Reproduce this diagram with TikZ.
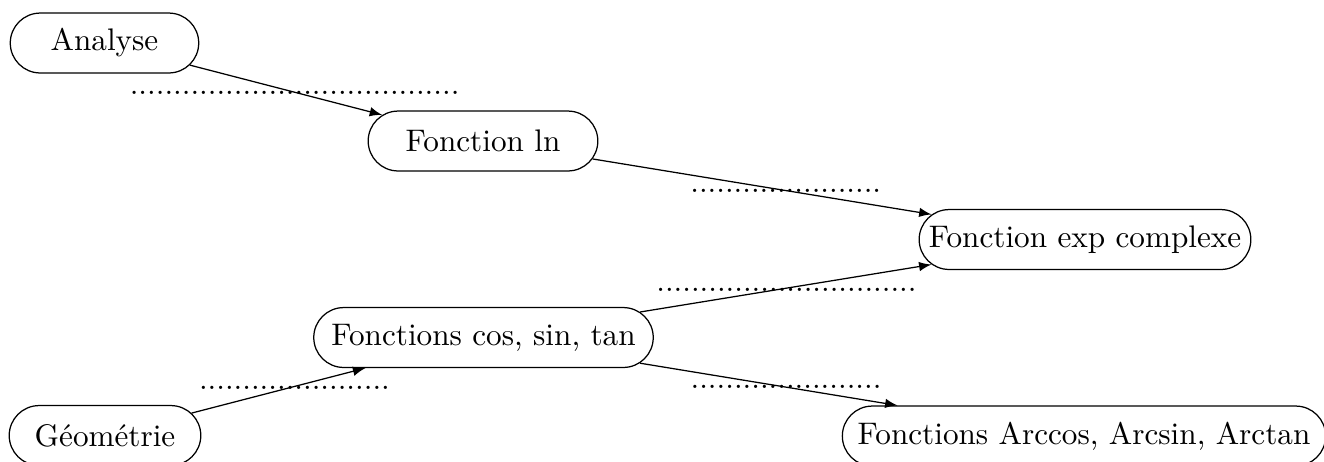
\documentclass[tikz,border=0pt]{standalone}
\usetikzlibrary{shapes.misc}
\tikzset{
  box/.style={draw, rounded rectangle, minimum height=19.2pt, inner xsep=2pt, inner ysep=0pt, font=\normalsize},
  lbl/.style={anchor=base west, inner sep=0pt},
  link/.style={-latex}
}
\begin{document}
\begin{tikzpicture}[x=0.3205pt, y=-0.3205pt]
\useasboundingbox (0,0) rectangle (1324,461);
\node[box, minimum width=64.4pt] (ana) at (104.5,43) {Analyse};
\node[box, minimum width=77.6pt] (ln) at (483,141) {Fonction ln};
\node[box, minimum width=110.3pt] (exp) at (1085,239.5) {Fonction exp complexe};
\node[box, minimum width=112.8pt] (trig) at (483.5,337.5) {Fonctions cos, sin, tan};
\node[box, minimum width=65.4pt] (geo) at (105,435.5) {Géométrie};
\node[box, minimum width=158.9pt] (arc) at (1084,436) {Fonctions Arccos, Arcsin, Arctan};
\draw[link] (ana) -- (ln);
\draw[link] (ln) -- (exp);
\draw[link] (trig) -- (exp);
\draw[link] (geo) -- (trig);
\draw[link] (trig) -- (arc);
\node[lbl] (l1) at (129.2,94.3) {......................................};
\node[lbl] (l2) at (689.7,192.3) {......................};
\node[lbl] (l3) at (655.7,291.3) {..............................};
\node[lbl] (l4) at (198.4,389) {......................};
\node[lbl] (l5) at (690,388.7) {......................};
\end{tikzpicture}
\end{document}
